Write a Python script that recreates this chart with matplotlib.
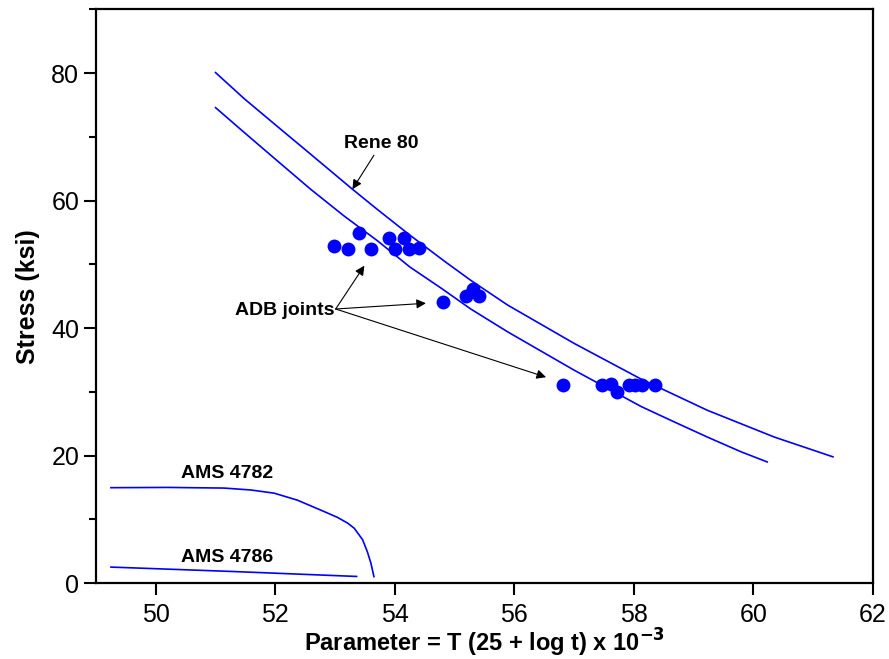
import matplotlib
matplotlib.use("Agg")
import matplotlib.pyplot as plt
from matplotlib.ticker import MultipleLocator

plt.rcParams['font.family'] = ['Liberation Sans', 'DejaVu Sans']

# Rene 80 band (upper / lower bound)
rene_upper_x = [51.0, 51.48, 52.04, 52.59, 53.29, 53.71, 54.25, 54.83, 55.27, 55.89,
                57.0, 58.12, 59.23, 59.79, 60.35, 61.33]
rene_upper_y = [80.1, 76.0, 71.6, 67.3, 61.8, 58.6, 54.6, 50.5, 47.5, 43.6,
                37.6, 32.0, 27.1, 25.0, 22.9, 19.8]
rene_lower_x = [51.0, 51.48, 52.04, 52.59, 53.15, 53.71, 54.25, 54.77, 55.27, 55.89,
                57.0, 58.12, 58.67, 59.23, 59.79, 60.23]
rene_lower_y = [74.6, 70.7, 66.2, 61.8, 57.6, 53.7, 49.6, 46.3, 43.0, 39.4,
                33.4, 27.7, 25.3, 22.9, 20.6, 19.0]

# AMS sheet alloys
ams4782_x = [49.25, 50.2, 51.14, 51.59, 51.98, 52.37, 52.82, 53.04, 53.21, 53.32,
             53.46, 53.54, 53.60, 53.65]
ams4782_y = [14.96, 15.0, 14.9, 14.6, 14.1, 13.0, 11.2, 10.3, 9.4, 8.6,
             6.8, 4.9, 3.1, 1.0]
ams4786_x = [49.25, 51.31, 53.36]
ams4786_y = [2.5, 1.8, 1.03]

# ADB joint test results
adb_x = [52.98, 53.21, 53.40, 53.60, 53.90, 54.0, 54.15, 54.24, 54.40,
         54.80, 55.19, 55.31, 55.41,
         56.81, 57.46, 57.61, 57.71, 57.91, 58.02, 58.13, 58.36]
adb_y = [52.9, 52.4, 55.0, 52.4, 54.1, 52.4, 54.1, 52.4, 52.5,
         44.1, 45.0, 46.2, 45.0,
         31.0, 31.0, 31.3, 30.0, 31.0, 31.0, 31.0, 31.0]

fig = plt.figure(figsize=(8.89, 6.59), dpi=100)
ax = fig.add_axes([0.108, 0.1153, 0.874, 0.8703])

blue = '#0000ff'
ax.plot(rene_upper_x, rene_upper_y, color=blue, lw=1.2)
ax.plot(rene_lower_x, rene_lower_y, color=blue, lw=1.2)
ax.plot(ams4782_x, ams4782_y, color=blue, lw=1.2)
ax.plot(ams4786_x, ams4786_y, color=blue, lw=1.2)
ax.plot(adb_x, adb_y, 'o', color=blue, markersize=10, markeredgewidth=0)

arrow = dict(arrowstyle='-|>', color='black', lw=0.8, mutation_scale=14, shrinkA=0, shrinkB=0)
ax.annotate('Rene 80', xy=(53.29, 61.8), xytext=(53.77, 68.9), fontsize=14, fontweight='bold',
            ha='center', va='center', arrowprops=arrow)
ax.text(52.16, 42.8, 'ADB joints', fontsize=14, fontweight='bold', ha='center', va='center')
for tx, ty in [(53.49, 49.8), (54.52, 43.9), (56.53, 32.3)]:
    ax.annotate('', xy=(tx, ty), xytext=(53.01, 43.0), arrowprops=arrow)

ax.text(51.2, 17.2, 'AMS 4782', fontsize=14, fontweight='bold', ha='center', va='center')
ax.text(51.2, 4.07, 'AMS 4786', fontsize=14, fontweight='bold', ha='center', va='center')

ax.set_xlim(49, 62)
ax.set_ylim(0, 90)
ax.xaxis.set_major_locator(MultipleLocator(2))
ax.yaxis.set_major_locator(MultipleLocator(20))
ax.yaxis.set_minor_locator(MultipleLocator(10))

for s in ax.spines.values():
    s.set_linewidth(1.6)
ax.tick_params(axis='both', which='major', direction='out', length=8.5, width=1.5, labelsize=18)
ax.tick_params(axis='y', which='minor', direction='out', length=5, width=1.5)
ax.tick_params(axis='x', pad=6)
ax.tick_params(axis='y', pad=3.5)

ax.set_xlabel('Parameter = T (25 + log t) x 10$^{\\mathbf{-3}}$', fontsize=17, fontweight='bold', labelpad=0)
ax.set_ylabel('Stress (ksi)', fontsize=18, fontweight='bold', labelpad=8)

fig.savefig('out.png', dpi=100)
